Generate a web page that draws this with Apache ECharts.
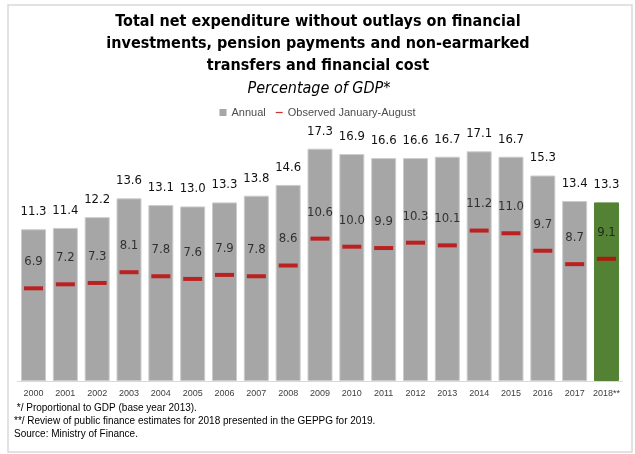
<!DOCTYPE html>
<html>
<head>
<meta charset="utf-8">
<script src="https://cdn.jsdelivr.net/npm/echarts@6/dist/echarts.min.js"></script>
<style>
  html, body { margin: 0; padding: 0; background: #ffffff; }
  #chart { width: 635px; height: 454px; }
</style>
</head>
<body>
<div id="chart"></div>
<script>
// Years on the category axis
const years = ['2000', '2001', '2002', '2003', '2004', '2005', '2006', '2007', '2008', '2009',
  '2010', '2011', '2012', '2013', '2014', '2015', '2016', '2017', '2018**'];

// Annual total, % of GDP
const annual = [11.3, 11.4, 12.2, 13.6, 13.1, 13.0, 13.3, 13.8, 14.6, 17.3,
  16.9, 16.6, 16.6, 16.7, 17.1, 16.7, 15.3, 13.4, 13.3];

// Observed January-August, % of GDP
const janAug = [6.9, 7.2, 7.3, 8.1, 7.8, 7.6, 7.9, 7.8, 8.6, 10.6,
  10.0, 9.9, 10.3, 10.1, 11.2, 11.0, 9.7, 8.7, 9.1];

const titleLines = [
  'Total net expenditure without outlays on financial',
  'investments, pension payments and non-earmarked',
  'transfers and financial cost'
];
const subtitle = 'Percentage of GDP*';
const seriesNames = ['Annual', 'Observed January-August'];
const notes = [
  ' */ Proportional to GDP (base year 2013).',
  '**/ Review of public finance estimates for 2018 presented in the GEPPG for 2019.',
  'Source: Ministry of Finance.'
];

const GREY = '#a6a6a6';
const GREEN = '#548235';
const RED = '#c00000';
const COND = '"DejaVu Sans Condensed", "DejaVu Sans", sans-serif';
const SANS = '"Liberation Sans", Arial, sans-serif';

const chart = echarts.init(document.getElementById('chart'), null, { renderer: 'canvas' });

const lastIdx = annual.length - 1;
const barData = annual.map((v, i) => i === lastIdx
  ? { value: v, itemStyle: { color: GREEN, borderColor: GREEN } }
  : v);

const graphics = [
  {
    type: 'rect', z: -1, silent: true,
    shape: { x: 8, y: 5, width: 624, height: 447 },
    style: { fill: 'none', stroke: '#d9d9d9', lineWidth: 1.5 }
  }
];
titleLines.forEach((t, i) => {
  graphics.push({
    type: 'text', x: 318, y: 22 + i * 22,
    style: { text: t, fill: '#000', font: 'bold 16px ' + COND, textAlign: 'center', textVerticalAlign: 'middle' }
  });
});
graphics.push({
  type: 'text', x: 319, y: 89,
  style: { text: subtitle, fill: '#000', font: 'italic 16px ' + COND, textAlign: 'center', textVerticalAlign: 'middle' }
});
notes.forEach((t, i) => {
  graphics.push({
    type: 'text', x: 14, y: 408 + i * 13,
    style: { text: t, fill: '#000', font: '10px ' + SANS, textAlign: 'left', textVerticalAlign: 'middle' }
  });
});

chart.setOption({
  animation: false,
  backgroundColor: '#ffffff',
  graphic: graphics,
  legend: {
    top: 102,
    left: 'center',
    itemGap: 10,
    itemWidth: 7,
    itemHeight: 7,
    textStyle: { fontSize: 11, color: '#4d4d4d', fontFamily: SANS },
    data: [
      { name: seriesNames[0], icon: 'rect', itemStyle: { color: GREY, borderWidth: 0 } },
      { name: seriesNames[1], icon: 'path://M0,0M8,8M0,3.3L8,3.3L8,4.7L0,4.7Z', itemStyle: { color: RED } }
    ]
  },
  grid: { left: 17.6, right: 12.6, top: 112.4, bottom: 73 },
  xAxis: {
    type: 'category',
    data: years,
    axisLine: { lineStyle: { color: '#d9d9d9', width: 1 } },
    axisTick: { show: false },
    axisLabel: { fontSize: 9, color: '#404040', margin: 8, interval: 0, fontFamily: SANS }
  },
  yAxis: {
    type: 'value', min: 0, max: 20, show: false,
    splitLine: { show: false }
  },
  series: [
    {
      name: seriesNames[0],
      type: 'bar',
      data: barData,
      barWidth: 25,
      itemStyle: { color: GREY, borderColor: '#cccccc', borderWidth: 1 },
      label: {
        show: true, position: 'top', distance: 11,
        fontSize: 13, color: '#111111', fontFamily: COND,
        formatter: p => p.value.toFixed(1)
      },
      z: 2
    },
    {
      name: seriesNames[1],
      type: 'scatter',
      data: janAug,
      symbol: 'rect',
      symbolSize: [19, 4],
      itemStyle: { color: RED },
      label: {
        show: true, position: 'top', distance: 18,
        fontSize: 13, color: '#111111', fontFamily: COND,
        formatter: p => p.value.toFixed(1)
      },
      z: 3
    }
  ]
});
</script>
</body>
</html>
